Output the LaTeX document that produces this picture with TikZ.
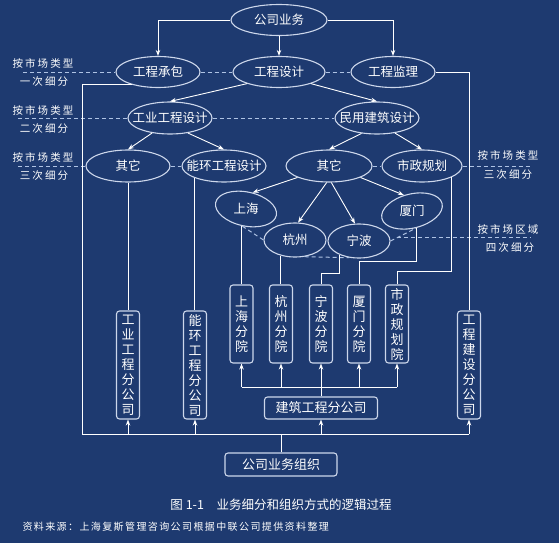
\documentclass[tikz,border=0pt]{standalone}
\usepackage{fontspec}
\setmainfont{Noto Sans CJK SC}
\newfontfamily\notefont[LetterSpace=20]{Noto Sans CJK SC}
\newfontfamily\srcfont[LetterSpace=14]{Noto Sans CJK SC}
\usepackage{xcolor}
\usetikzlibrary{shapes.geometric,arrows.meta,calc}
\definecolor{bgblue}{RGB}{30,58,112}
\definecolor{rimblue}{RGB}{205,215,235}
\definecolor{dashblue}{RGB}{175,195,228}
\newcommand{\ovtext}[1]{\makebox[0pt]{#1}}

\begin{document}
\begin{tikzpicture}[x=1pt, y=-1pt, >={Stealth[length=6pt,width=4.5pt]},
    biz/.style={ellipse, draw=rimblue, line width=1.1pt, inner sep=0pt, minimum width=84pt, minimum height=31pt, text=white, font=\fontsize{12.5}{14}\selectfont},
    city/.style={biz, minimum width=62pt, minimum height=34pt},
    unit/.style={rectangle, rounded corners=3pt, draw=rimblue, line width=1.1pt, inner sep=0pt, text=white, align=center, minimum width=23pt, font=\fontsize{13}{15}\selectfont},
    link/.style={white, line width=0.9pt},
    split/.style={dashblue, line width=1pt, dash pattern=on 4pt off 3pt},
    note/.style={text=white, font=\notefont\fontsize{10.5}{12}\selectfont}]
        % background
        \fill[bgblue] (0,0) rectangle (559,543);

        % business tree
        \node[biz, minimum width=96pt] (gsyw) at (279,20) {\ovtext{公司业务}};
        \node[biz] (gccb) at (158,72) {\ovtext{工程承包}};
        \node[biz, minimum width=92pt] (gcsj) at (279,72) {\ovtext{工程设计}};
        \node[biz] (gcjl) at (393,72) {\ovtext{工程监理}};
        \node[biz, minimum height=32pt] (gysj) at (170,118) {\ovtext{工业工程设计}};
        \node[biz, minimum height=32pt] (mysj) at (377,118) {\ovtext{民用建筑设计}};
        \node[biz, minimum height=32pt] (qt1) at (128,166) {\ovtext{其它}};
        \node[biz, minimum height=32pt] (nhsj) at (224,166) {\ovtext{能环工程设计}};
        \node[biz, minimum height=32pt, minimum width=86pt] (qt2) at (329,166) {\ovtext{其它}};
        \node[biz, minimum height=32pt, minimum width=80pt] (szgh) at (422,166) {\ovtext{市政规划}};

        % cities
        \node[city, rotate=-12] (sh) at (246,209) {\rotatebox{12}{\ovtext{上海}}};
        \node[city] (hz) at (295,240) {\ovtext{杭州}};
        \node[city] (nb) at (359,241) {\ovtext{宁波}};
        \node[city, rotate=14] (xm) at (412,211) {\rotatebox{-14}{\ovtext{厦门}}};

        % organisation units
        \node[unit, minimum height=78pt] (shfy) at (241.5,324) {上\\海\\分\\院};
        \node[unit, minimum height=78pt] (hzfy) at (281,324) {杭\\州\\分\\院};
        \node[unit, minimum height=78pt] (nbfy) at (321,324) {宁\\波\\分\\院};
        \node[unit, minimum height=78pt] (xmfy) at (359,324) {厦\\门\\分\\院};
        \node[unit, minimum height=78pt] (szgy) at (397,324) {市\\政\\规\\划\\院};
        \node[unit, minimum height=108pt] (gyfgs) at (128,365) {工\\业\\工\\程\\分\\公\\司};
        \node[unit, minimum height=108pt] (nhfgs) at (195,365) {能\\环\\工\\程\\分\\公\\司};
        \node[unit, minimum height=108pt] (gcjs) at (469,365) {工\\程\\建\\设\\分\\公\\司};
        \node[unit, minimum width=113pt, minimum height=22pt] (jzfgs) at (321,408) {建筑工程分公司};
        \node[unit, minimum width=112pt, minimum height=23pt] (zuzhi) at (281,464.5) {公司业务组织};

        % side notes
        \node[note] (m1a) at (43,63) {按市场类型};
        \node[note] (m1b) at (44,82) {一次细分};
        \node[note] (m2a) at (43,110) {按市场类型};
        \node[note] (m2b) at (44,129) {二次细分};
        \node[note] (m3a) at (43,157) {按市场类型};
        \node[note] (m3b) at (44,176) {三次细分};
        \node[note] (m3c) at (508,155) {按市场类型};
        \node[note] (m3d) at (508,175) {三次细分};
        \node[note] (m4a) at (508,229) {按市场区域};
        \node[note] (m4b) at (510,248) {四次细分};

        \coordinate (d1) at (23,72);
        \coordinate (d2) at (18,118);
        \coordinate (d3) at (18,166);
        \coordinate (d3r) at (530,166);
        \coordinate (d4r) at (530,238);
        \coordinate (busL) at (82,434);
        \coordinate (bus2) at (0,387);

        % dashed split levels
        \draw[split] (d1) -- (gccb.west) (gccb.east) -- (gcsj.west) (gcsj.east) -- (gcjl.west);
        \draw[split] (d2) -- (gysj.west) (gysj.east) -- (mysj.west);
        \draw[split] (d3) -- (qt1.west) (qt1.east) -- (nhsj.west) (qt2.east) -- (szgh.west) (szgh.east) -- (d3r);
        \draw[split] (sh.south) -- (hz.west) (hz.300) -- (nb.240) (nb.east) -- (xm.south);
        \path ($(nb.east)!0.25!(xm.south)$) coordinate (d4);
        \draw[split] (d4) -- (d4 -| d4r);

        % arrows down the tree
        \draw[link,->] (gsyw.west) -| (gccb.north);
        \draw[link,->] (gsyw.east) -| (gcjl.north);
        \draw[link,->] (gsyw.south) -- (gcsj.north);
        \draw[link,->] (gcsj.200) -- (gysj.north);
        \draw[link,->] (gcsj.340) -- (mysj.north);
        \draw[link,->] (gysj.220) -- (qt1.north);
        \draw[link,->] (gysj.320) -- (nhsj.north);
        \draw[link,->] (mysj.225) -- (qt2.north);
        \draw[link,->] (mysj.320) -- (szgh.north);
        \draw[link,->] (qt2.200) -- (sh.80);
        \draw[link,->] (qt2.262) -- (hz.80);
        \draw[link,->] (qt2.278) -- (nb.103);
        \draw[link,->] (qt2.340) -- (xm.103);

        % business to units
        \draw[link] (qt1.south) -- (gyfgs.north);
        \draw[link] (nhsj.202) -- (nhsj.202 |- nhfgs.north);
        \draw[link] (shfy.north) -- (shfy.north |- sh.south);
        \draw[link] (hz.227) -- (hz.227 |- hzfy.north);
        \draw[link] (nb.215) -- ++(0,19) -| (nbfy.north);
        \draw[link] (xm.south) -- ++(0,33) -| (xmfy.north);
        \draw[link] (szgh.339) -- ++(0,94) -| (szgy.north);
        \draw[link] (gcjl.east) -| (gcjs.north);
        \draw[link] (gccb.206) -| (busL) -- (gcjs.south |- busL);

        % organisation feed
        \draw[link] (zuzhi.north) -- (zuzhi.north |- busL);
        \foreach \u in {gyfgs, nhfgs, jzfgs, gcjs}
            \draw[link,->] (\u.south |- busL) -- (\u.south);
        \draw[link] (shfy.south |- bus2) -- (szgy.south |- bus2);
        \foreach \u in {shfy, hzfy, xmfy, szgy}
            \draw[link,->] (\u.south |- bus2) -- (\u.south);
        \draw[link,->] (jzfgs.north) -- (nbfy.south);

        % caption
        \node[text=white, font=\fontsize{12.5}{14}\selectfont] (cap) at (281,505) {图 1-1\quad 业务细分和组织方式的逻辑过程};
        \node[anchor=west, text=white, font=\srcfont\fontsize{10}{12}\selectfont] (src) at (19,527) {资料来源：上海复斯管理咨询公司根据中联公司提供资料整理};
\end{tikzpicture}
\end{document}
